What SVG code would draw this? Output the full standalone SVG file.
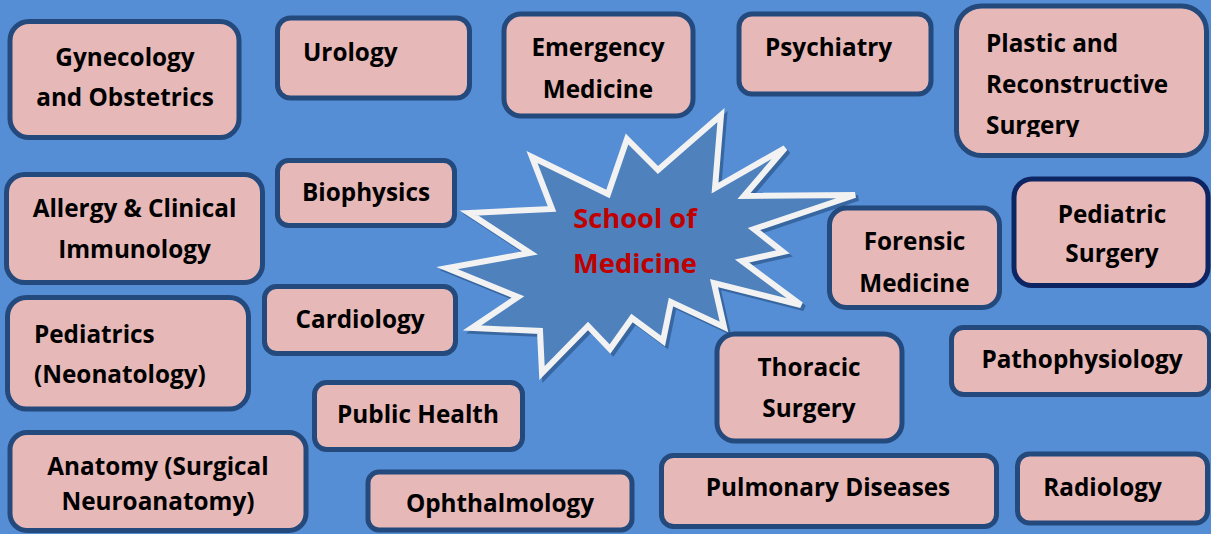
<svg xmlns="http://www.w3.org/2000/svg" width="1211" height="534" viewBox="0 0 1211 534">
<style>
.box{fill:#E6B8B7;stroke:#23497D;stroke-width:5}
.dark{stroke:#0E2564}
.t{font-family:"Open Sans","Liberation Sans",sans-serif;font-weight:700;font-size:24.3px;fill:#000}
.m{text-anchor:middle}
.star-t{font-family:"Open Sans","Liberation Sans",sans-serif;font-weight:700;font-size:27.3px;fill:#C00000;text-anchor:middle}
</style>
<defs>
<clipPath id="clipPlastic"><rect x="956" y="6" width="252" height="131"/></clipPath>
</defs>
<rect x="0" y="0" width="1211" height="534" fill="#558ED5"/>
<g id="connectors"></g>

<g id="center">
<polygon transform="translate(3,3)" fill="none" stroke="#2F5C93" stroke-width="6" stroke-linejoin="miter" opacity="0.8" points="532,157 608,194 627,139 658,170 721,115 715,188 785,148 744,196 855,195 754,229 783,252 742,261 801,305 714,283 724,327 671,302 663,341 632,318 610,349 588,326 542,373 540,331 472,328 518,297 447,268 530,253 469,213 552,209"/>
<polygon fill="#4F81BD" stroke="#F2F2F2" stroke-width="6" stroke-linejoin="miter" points="532,157 608,194 627,139 658,170 721,115 715,188 785,148 744,196 855,195 754,229 783,252 742,261 801,305 714,283 724,327 671,302 663,341 632,318 610,349 588,326 542,373 540,331 472,328 518,297 447,268 530,253 469,213 552,209"/>
<text class="star-t" x="635" y="228">School of</text>
<text class="star-t" x="635" y="273">Medicine</text>
</g>

<g id="gynecology"><rect class="box" x="10" y="21.5" width="229" height="116" rx="19"/>
<text class="t m" x="125" y="66">Gynecology</text><text class="t m" x="125" y="106">and Obstetrics</text></g>

<g id="urology"><rect class="box" x="277.5" y="18" width="192" height="80" rx="13"/>
<text class="t" x="303" y="61">Urology</text></g>

<g id="emergency"><rect class="box" x="504" y="14" width="189" height="102" rx="17"/>
<text class="t m" x="598" y="56">Emergency</text><text class="t m" x="598" y="98">Medicine</text></g>

<g id="psychiatry"><rect class="box" x="739" y="14" width="192" height="80" rx="13"/>
<text class="t" x="765" y="56">Psychiatry</text></g>

<g id="plastic"><rect class="box" x="956.5" y="6" width="250" height="149.5" rx="25"/>
<g clip-path="url(#clipPlastic)">
<text class="t" x="986" y="52">Plastic and</text><text class="t" x="986" y="93">Reconstructive</text><text class="t" x="986" y="134">Surgery</text></g></g>

<g id="allergy"><rect class="box" x="6.5" y="174.5" width="256" height="108" rx="18"/>
<text class="t m" x="134.5" y="217">Allergy &amp; Clinical</text><text class="t m" x="134.5" y="258">Immunology</text></g>

<g id="biophysics"><rect class="box" x="277.5" y="160.5" width="177" height="65" rx="11"/>
<text class="t m" x="366" y="201">Biophysics</text></g>

<g id="forensic"><rect class="box" x="829.5" y="208" width="170" height="99.5" rx="17"/>
<text class="t m" x="914.5" y="250">Forensic</text><text class="t m" x="914.5" y="292">Medicine</text></g>

<g id="pediatric-surgery"><rect class="box dark" x="1014" y="179" width="194" height="106.5" rx="18"/>
<text class="t m" x="1112" y="223">Pediatric</text><text class="t m" x="1112" y="262">Surgery</text></g>

<g id="pediatrics"><rect class="box" x="7.5" y="297.5" width="241" height="111.5" rx="19"/>
<text class="t" x="34" y="343">Pediatrics</text><text class="t" x="34" y="383">(Neonatology)</text></g>

<g id="cardiology"><rect class="box" x="264.5" y="286.5" width="191" height="67" rx="12"/>
<text class="t m" x="360" y="328">Cardiology</text></g>

<g id="public-health"><rect class="box" x="314.5" y="382.5" width="208" height="67" rx="12"/>
<text class="t m" x="418" y="423">Public Health</text></g>

<g id="thoracic"><rect class="box" x="717" y="334" width="185" height="107" rx="18"/>
<text class="t m" x="809" y="376">Thoracic</text><text class="t m" x="809" y="417">Surgery</text></g>

<g id="pathophysiology"><rect class="box" x="951.5" y="327.5" width="258" height="67" rx="12"/>
<text class="t m" x="1082" y="368">Pathophysiology</text></g>

<g id="anatomy"><rect class="box" x="10" y="432.5" width="296" height="98" rx="17"/>
<text class="t m" x="158" y="475">Anatomy (Surgical</text><text class="t m" x="158" y="510">Neuroanatomy)</text></g>

<g id="ophthalmology"><rect class="box" x="368" y="472" width="264" height="58" rx="11"/>
<text class="t m" x="500" y="512">Ophthalmology</text></g>

<g id="pulmonary"><rect class="box" x="661.5" y="455.5" width="335" height="71" rx="12"/>
<text class="t m" x="828" y="496">Pulmonary Diseases</text></g>

<g id="radiology"><rect class="box" x="1017.5" y="454" width="190" height="69" rx="12"/>
<text class="t m" x="1102.5" y="496">Radiology</text></g>
</svg>
